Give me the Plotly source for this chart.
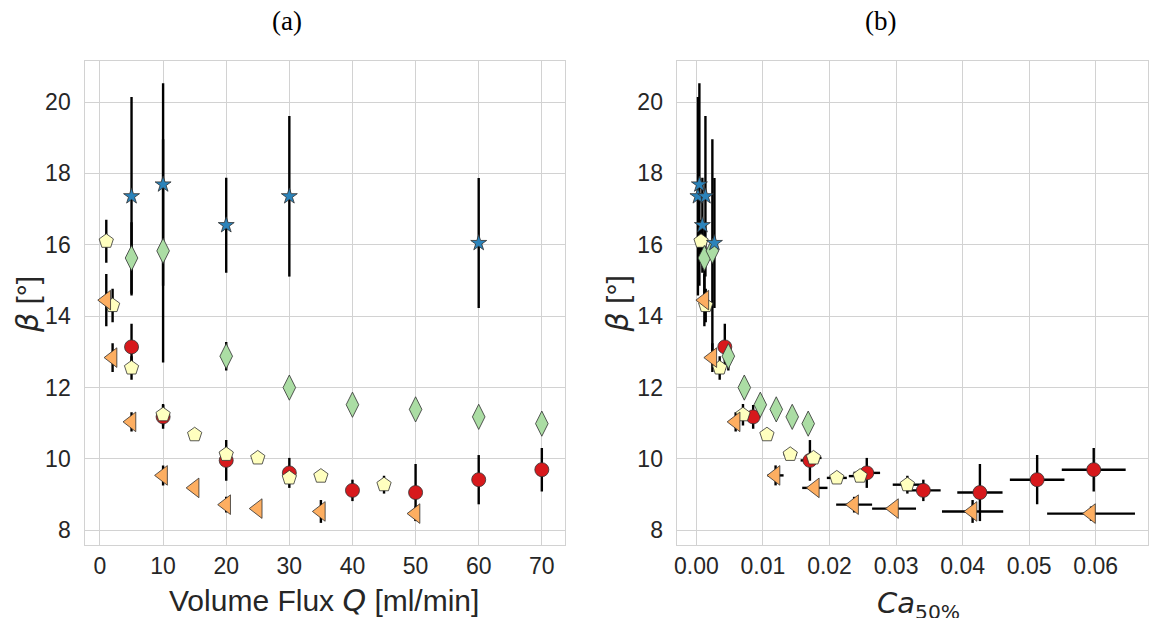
import plotly.graph_objects as go

# ---------------- data ----------------
# red circles
red_Q = [5, 10, 20, 30, 40, 50, 60, 70]
red_beta = [13.14, 11.18, 9.96, 9.61, 9.12, 9.06, 9.42, 9.70]
red_err = [0.65, 0.33, 0.57, 0.42, 0.30, 0.80, 0.69, 0.61]
red_Ca = [0.00427, 0.00853, 0.01706, 0.0256, 0.0341, 0.0426, 0.0512, 0.0597]
red_Ca_err = [0.0003, 0.0007, 0.0014, 0.0020, 0.0026, 0.0034, 0.0041, 0.0048]

# orange left triangles
or_Q = [1, 2, 5, 10, 15, 20, 25, 35, 50]
or_beta = [14.45, 12.84, 11.04, 9.54, 9.19, 8.72, 8.61, 8.53, 8.47]
or_err = [0.73, 0.40, 0.27, 0.28, 0.12, 0.22, 0.12, 0.32, 0.20]
or_Ca = [0.0012, 0.0024, 0.0059, 0.0119, 0.0178, 0.0237, 0.0297, 0.0415, 0.0593]
or_Ca_err = [0.00013, 0.00026, 0.00065, 0.0012, 0.0019, 0.0027, 0.0033, 0.0046, 0.0066]

# yellow pentagons
ye_Q = [1, 2, 5, 10, 15, 20, 25, 30, 35, 45]
ye_beta = [16.10, 14.30, 12.55, 11.24, 10.68, 10.13, 10.03, 9.47, 9.52, 9.28]
ye_err = [0.60, 0.47, 0.33, 0.30, 0.05, 0.10, 0.05, 0.10, 0.05, 0.25]
ye_Ca = [0.0007, 0.0014, 0.0035, 0.0070, 0.0106, 0.0141, 0.0176, 0.0211, 0.0246, 0.0317]
ye_Ca_err = [0.00005, 0.0001, 0.00025, 0.0005, 0.0007, 0.0010, 0.0012, 0.0015, 0.0017, 0.0022]

# green thin diamonds
gr_Q = [5, 10, 20, 30, 40, 50, 60, 70]
gr_beta = [15.63, 15.83, 12.88, 12.00, 11.52, 11.39, 11.18, 10.99]
gr_err = [1.00, 3.13, 0.40, 0.10, 0.10, 0.10, 0.10, 0.10]
gr_Ca = [0.0012, 0.0024, 0.0048, 0.0072, 0.0096, 0.0120, 0.0144, 0.0168]
gr_Ca_err = [0.00006, 0.00012, 0.00024, 0.00036, 0.00048, 0.0006, 0.00072, 0.00084]

# blue stars
bl_Q = [5, 10, 20, 30, 60]
bl_beta = [17.36, 17.69, 16.55, 17.36, 16.05]
bl_err = [2.78, 2.84, 1.33, 2.25, 1.82]
bl_Ca = [0.00023, 0.00045, 0.0009, 0.00136, 0.00271]
bl_Ca_err = [0.00002, 0.00004, 0.00007, 0.0001, 0.0002]

x_ticks_left = [0, 10, 20, 30, 40, 50, 60, 70]
x_ticks_right = [0.00, 0.01, 0.02, 0.03, 0.04, 0.05, 0.06]
y_ticks = [8, 10, 12, 14, 16, 18, 20]

series = [
    # name, Q, beta, err, Ca, Caerr, color, symbol, size
    ("red", red_Q, red_beta, red_err, red_Ca, red_Ca_err, "#d7191c", "circle", 14),
    ("yellow", ye_Q, ye_beta, ye_err, ye_Ca, ye_Ca_err, "#ffffbf", "pentagon", 15),
    ("orange", or_Q, or_beta, or_err, or_Ca, or_Ca_err, "#fdae61", "triangle-left", 17),
    ("green", gr_Q, gr_beta, gr_err, gr_Ca, gr_Ca_err, "#abdda4", "diamond-tall", 18),
    ("blue", bl_Q, bl_beta, bl_err, bl_Ca, bl_Ca_err, "#2b83ba", "star", 12),
]

fig = go.Figure()

EB = dict(type="data", color="black", thickness=2.4, width=0, visible=True)

# error bars first (drawn beneath all markers)
for name, Q, b, e, ca, cae, col, sym, sz in series:
    fig.add_trace(go.Scatter(
        x=Q, y=b, mode="markers", xaxis="x", yaxis="y",
        marker=dict(size=1, color="rgba(0,0,0,0)"),
        error_y=dict(array=e, **EB), showlegend=False, hoverinfo="skip"))
    fig.add_trace(go.Scatter(
        x=ca, y=b, mode="markers", xaxis="x2", yaxis="y2",
        marker=dict(size=1, color="rgba(0,0,0,0)"),
        error_y=dict(array=e, **EB), error_x=dict(array=cae, **EB),
        showlegend=False, hoverinfo="skip"))

# markers on top
for name, Q, b, e, ca, cae, col, sym, sz in series:
    mk = dict(size=sz, color=col, symbol=sym, line=dict(color="#303030", width=0.8))
    fig.add_trace(go.Scatter(x=Q, y=b, mode="markers", xaxis="x", yaxis="y",
                             marker=mk, showlegend=False, name=name))
    fig.add_trace(go.Scatter(x=ca, y=b, mode="markers", xaxis="x2", yaxis="y2",
                             marker=mk, showlegend=False, name=name))

# page shows the figure offset by the default 8px body margin
OFF = 8
W, H = 1159 - OFF, 618 - OFF


def px(v):
    return (v - OFF) / W


def py(v):
    return 1 - (v - OFF) / H


TXT = "#262626"
GRID = "#d2d2d2"
axis_common = dict(
    showgrid=True, gridcolor=GRID, gridwidth=1.4,
    showline=True, linecolor=GRID, linewidth=1.4, mirror=True,
    zeroline=False, ticks="", tickfont=dict(family="Liberation Sans, Arial", size=23, color=TXT),
)

fig.update_layout(
    width=W, height=H,
    margin=dict(l=0, r=0, t=0, b=0),
    paper_bgcolor="white", plot_bgcolor="white",
    xaxis=dict(domain=[px(81.7), px(563)], range=[-2.45, 73.6], anchor="y",
               tickvals=x_ticks_left, ticklabelstandoff=0, **axis_common),
    yaxis=dict(domain=[py(545), py(61)], range=[7.59, 21.15], anchor="x",
               tickvals=y_ticks, ticklabelstandoff=8, **axis_common),
    xaxis2=dict(domain=[px(675.5), px(1148)], range=[-0.00295, 0.06786], anchor="y2",
                tickvals=x_ticks_right, tickformat=".2f", ticklabelstandoff=0, **axis_common),
    yaxis2=dict(domain=[py(545), py(61)], range=[7.59, 21.15], anchor="x2",
                tickvals=y_ticks, ticklabelstandoff=8, **axis_common),
    showlegend=False,
)

ann_font = dict(family="Liberation Sans, Arial", size=30, color=TXT)
beta_lbl = "<span style=\"font-family:'DejaVu Sans';font-style:italic\">β</span> [°]"
annotations = [
    dict(text="(a)", x=px(285), y=py(21), font=dict(family="Liberation Serif, serif", size=27, color="black")),
    dict(text="(b)", x=px(880), y=py(21), font=dict(family="Liberation Serif, serif", size=27, color="black")),
    dict(text="Volume Flux <span style=\"font-family:'DejaVu Sans';font-style:italic\">Q</span> [ml/min]",
         x=px(322), y=py(600), font=ann_font),
    dict(text="<i>Ca</i><sub>50%</sub>", x=px(918), y=py(605),
         font=dict(family="DejaVu Sans", size=29, color=TXT)),
    dict(text=beta_lbl, x=px(24), y=py(304), textangle=-90, font=ann_font),
    dict(text=beta_lbl, x=px(616), y=py(304), textangle=-90, font=ann_font),
]
for a in annotations:
    a.update(xref="paper", yref="paper", showarrow=False, xanchor="center", yanchor="middle")
fig.update_layout(annotations=annotations)

fig.write_html("out.html")
